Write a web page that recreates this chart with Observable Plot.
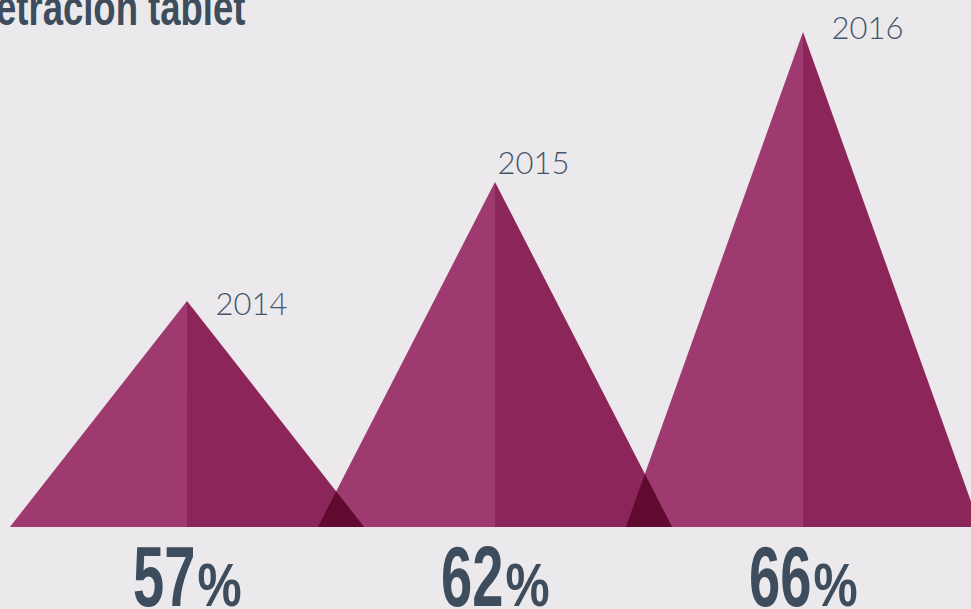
<!DOCTYPE html>
<html><head><meta charset="utf-8">
<script src="https://cdn.jsdelivr.net/npm/d3@7"></script>
<script src="https://cdn.jsdelivr.net/npm/@observablehq/plot@0.6"></script>
<style>
html,body{margin:0;padding:0;background:#ebe9ec;overflow:hidden;width:971px;height:609px;}
#wrap{position:relative;width:971px;height:609px;}
#title{position:absolute;right:726px;top:-17px;font-family:"Liberation Sans Narrow","Liberation Sans",sans-serif;font-weight:bold;font-size:50px;line-height:50px;color:#3d4d5d;white-space:nowrap;transform:scaleX(0.73);transform-origin:right center;}
#chart svg{display:block;}
</style></head><body>
<div id="wrap"><div id="chart"></div><div id="title">Penetración tablet</div></div>
<script>
// data
const years = ["2014", "2015", "2016"];
const shares = [57, 62, 66];          // % penetration
const peakHeights = [226, 345, 495];  // visual height of each peak (as drawn)

const hw = 0.575; // half base width, in slot units
const leftPts = [], rightPts = [], overlapPts = [];
years.forEach((yr, i) => {
  leftPts.push({k: yr, x: i - hw, y: 0}, {k: yr, x: i, y: peakHeights[i]});
  rightPts.push({k: yr, x: i, y: peakHeights[i]}, {k: yr, x: i + hw, y: 0});
});
for (let i = 0; i < years.length - 1; i++) {
  const R = i + hw, L = i + 1 - hw, hi = peakHeights[i], hj = peakHeights[i + 1];
  if (L < R) {
    const xi = (hi * R + hj * L) / (hi + hj);
    const yi = hi * (R - xi) / hw;
    overlapPts.push({k: i, x: L, y: 0}, {k: i, x: xi, y: yi}, {k: i, x: R, y: 0});
  }
}
const idx = years.map((_, i) => i);
const textColor = "#3d4d5d";
const yearFont = "Lato, 'Open Sans', sans-serif";
const numFont = "'Liberation Sans Narrow', 'Liberation Sans', sans-serif";
const yearOffsets = [[28, 13], [2, -9], [28, 6]];

const chart = Plot.plot({
  width: 971, height: 609, margin: 0,
  style: {background: "transparent"},
  x: {type: "linear", domain: [-0.6071, 2.5455], axis: null},
  y: {domain: [0, 527], range: [527, 0], axis: null},
  marks: [
    Plot.areaY(leftPts, {x: "x", y: "y", z: "k", fill: "#9e3a70", curve: "linear", clip: true}),
    Plot.areaY(rightPts, {x: "x", y: "y", z: "k", fill: "#8c2559", curve: "linear", clip: true}),
    Plot.areaY(overlapPts, {x: "x", y: "y", z: "k", fill: "#600a2f", curve: "linear"}),
    ...idx.map(i => Plot.text([i], {
      x: d => d, y: d => peakHeights[d], text: d => years[d],
      textAnchor: "start", lineAnchor: "bottom",
      dx: yearOffsets[i][0], dy: yearOffsets[i][1],
      fontSize: 31, fontWeight: 300, fontFamily: yearFont, fill: "#45566a"
    })),
    Plot.text(idx, {
      x: d => d, frameAnchor: "bottom", text: d => String(shares[d]),
      textAnchor: "end", lineAnchor: "bottom", dx: 8, dy: -4,
      fontSize: 85, fontWeight: "bold", fontFamily: numFont, fill: textColor,
      className: "pctnum"
    }),
    Plot.text(idx, {
      x: d => d, frameAnchor: "bottom", text: () => "%",
      textAnchor: "start", lineAnchor: "bottom", dx: 10, dy: -4,
      fontSize: 62, fontWeight: "bold", fontFamily: numFont, fill: textColor,
      className: "pctsign"
    })
  ]
});
document.getElementById("chart").appendChild(chart);

function squeeze(sel, k) {
  d3.select(chart).selectAll(sel).each(function () {
    const t = this;
    const x = t.getAttribute("x"), y = t.getAttribute("y");
    let tr = t.getAttribute("transform") || "";
    if (x !== null || y !== null) {
      tr += ` translate(${+x || 0},${+y || 0})`;
      t.removeAttribute("x"); t.removeAttribute("y");
    }
    t.setAttribute("transform", tr + ` scale(${k},1)`);
  });
}
squeeze(".pctnum text", 0.66);
squeeze(".pctsign text", 0.8);
</script>
</body></html>
